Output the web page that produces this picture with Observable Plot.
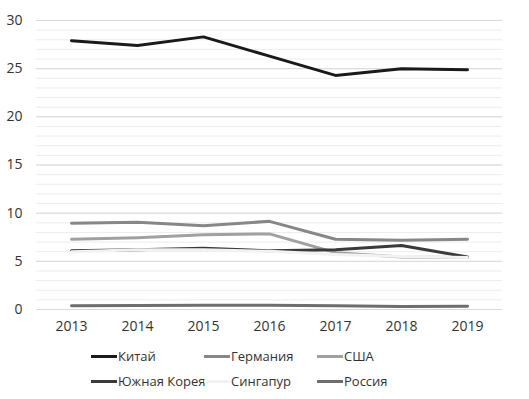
<!DOCTYPE html>
<html><head><meta charset="utf-8">
<script src="https://cdn.jsdelivr.net/npm/d3@7"></script>
<script src="https://cdn.jsdelivr.net/npm/@observablehq/plot@0.6"></script>
<style>
body{margin:0;background:#fff;font-family:"Open Sans",sans-serif;}
#legend{position:relative;height:58px;width:529px;font-size:13px;color:#333;}
.li{position:absolute;display:flex;align-items:center;}
.sw{width:26px;height:3px;margin-right:1px;}
</style></head>
<body><div id="chart"></div><div id="legend"></div>
<script>
const years = [2013,2014,2015,2016,2017,2018,2019];
const china     = [27.9,27.4,28.3,26.3,24.3,25.0,24.9];
const germany   = [8.95,9.05,8.7,9.15,7.3,7.2,7.3];
const usa       = [7.3,7.45,7.75,7.85,5.9,5.45,5.4];
const korea     = [6.1,6.2,6.35,6.1,6.2,6.65,5.45];
const singapore = [6.0,6.2,6.2,6.05,5.7,5.5,5.4];
const russia    = [0.4,0.42,0.45,0.45,0.38,0.32,0.35];
const names = ["Китай","Германия","США","Южная Корея","Сингапур","Россия"];
const colors = ["#1a1a1a","#878787","#a0a0a0","#3a3a3a","#f2f2f2","#6e6e6e"];
const seriesVals = [china,germany,usa,korea,singapore,russia];
const yTicks = [0,5,10,15,20,25,30];
const minorTicks = d3.range(0,31);

const data = [];
seriesVals.forEach((s,i)=>s.forEach((v,j)=>data.push({name:names[i],year:years[j],value:v})));

const plot = Plot.plot({
  width:529, height:340,
  marginLeft:36, marginRight:27, marginTop:20, marginBottom:31,
  style:{fontFamily:"Open Sans, sans-serif", fontSize:"14px", color:"#333", background:"#fff"},
  x:{type:"point", domain:years, padding:0.5, label:null},
  y:{domain:[0,30], label:null},
  color:{domain:names, range:colors},
  marks:[
    Plot.ruleY(minorTicks,{stroke:"#ececec", strokeWidth:1}),
    Plot.ruleY(yTicks,{stroke:"#d9d9d9", strokeWidth:1}),
    Plot.axisY(yTicks,{tickSize:0, tickPadding:14, label:null, fontSize:14}),
    Plot.axisX(years,{tickSize:0, tickPadding:12, label:null, fontSize:14, tickFormat:d=>String(d)}),
    Plot.line(data,{x:"year", y:"value", z:"name", stroke:"name", strokeWidth:3, strokeLinejoin:"round"})
  ]
});
document.getElementById("chart").appendChild(plot);

const lg = document.getElementById("legend");
const cols=[91,204,317], rows=[17,42];
names.forEach((n,i)=>{
  const d=document.createElement("div");d.className="li";
  d.style.left=cols[i%3]+"px";d.style.top=(rows[Math.floor(i/3)]-10)+"px";
  d.innerHTML=`<span class="sw" style="background:${colors[i]}"></span><span>${n}</span>`;
  lg.appendChild(d);
});
</script></body></html>
